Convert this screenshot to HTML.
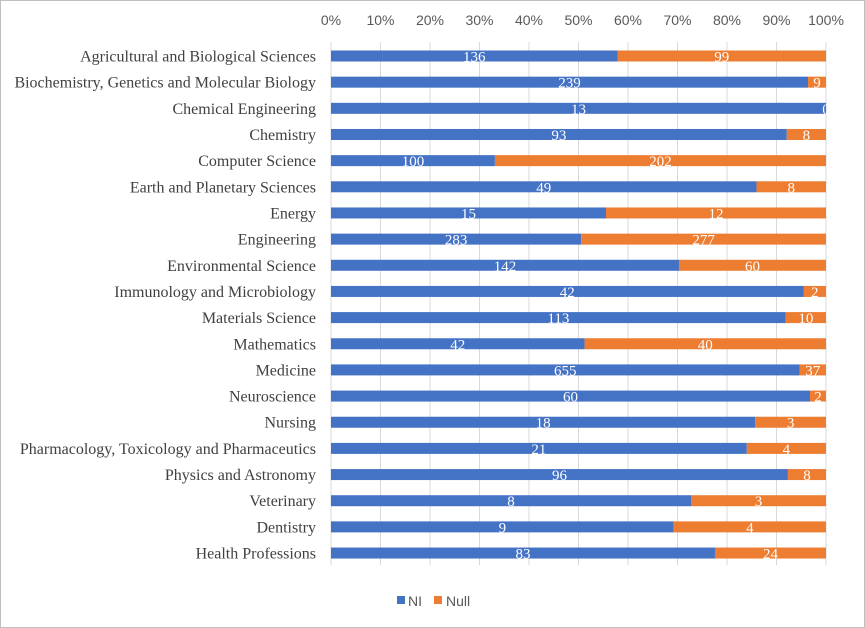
<!DOCTYPE html><html><head><style>body{margin:0;background:#fff}svg{display:block}</style></head><body>
<svg id="s" width="865" height="628" xmlns="http://www.w3.org/2000/svg">
<rect x="0.5" y="0.5" width="864" height="627" fill="#fff" stroke="#bfbfbf"/>
<g id="g"></g>
<rect x="397" y="596" width="8" height="8" fill="#4472c4"/><text x="408" y="606" font-family="Liberation Sans, sans-serif" font-size="14" fill="#595959">NI</text>
<rect x="434" y="596" width="8" height="8" fill="#ed7d31"/><text x="446" y="606" font-family="Liberation Sans, sans-serif" font-size="14" fill="#595959">Null</text>
</svg>
<script>
var d=[["Agricultural and Biological Sciences",136,99],["Biochemistry, Genetics and Molecular Biology",239,9],["Chemical Engineering",13,0],["Chemistry",93,8],["Computer Science",100,202],["Earth and Planetary Sciences",49,8],["Energy",15,12],["Engineering",283,277],["Environmental Science",142,60],["Immunology and Microbiology",42,2],["Materials Science",113,10],["Mathematics",42,40],["Medicine",655,37],["Neuroscience",60,2],["Nursing",18,3],["Pharmacology, Toxicology and Pharmaceutics",21,4],["Physics and Astronomy",96,8],["Veterinary",8,3],["Dentistry",9,4],["Health Professions",83,24]];
var x0=331,W=495,h='';
for(var i=0;i<=10;i++){var x=x0+W*i/10;h+='<line x1="'+x+'" y1="42" x2="'+x+'" y2="565" stroke="#d9d9d9"/>';h+='<text x="'+x+'" y="25" text-anchor="middle" font-family="Liberation Sans, sans-serif" font-size="14" fill="#595959">'+(i*10)+'%</text>';}
d.forEach(function(r,i){var y=56+i*26.16,t=r[1]+r[2],w1=W*r[1]/t;
h+='<rect x="'+x0+'" y="'+(y-5.5)+'" width="'+w1+'" height="11" fill="#4472c4"/>';
h+='<rect x="'+(x0+w1)+'" y="'+(y-5.5)+'" width="'+(W-w1)+'" height="11" fill="#ed7d31"/>';
h+='<text x="'+(x0+w1/2)+'" y="'+(y+5.5)+'" text-anchor="middle" font-family="Liberation Serif, serif" font-size="15" fill="#fff">'+r[1]+'</text>';
h+='<text x="'+(x0+w1+(W-w1)/2)+'" y="'+(y+5.5)+'" text-anchor="middle" font-family="Liberation Serif, serif" font-size="15" fill="#fff">'+r[2]+'</text>';
h+='<text x="316" y="'+(y+5.5)+'" text-anchor="end" textLength="" font-family="Liberation Serif, serif" font-size="16" fill="#404040">'+r[0]+'</text>';});
document.getElementById('g').innerHTML=h;
</script></body></html>
